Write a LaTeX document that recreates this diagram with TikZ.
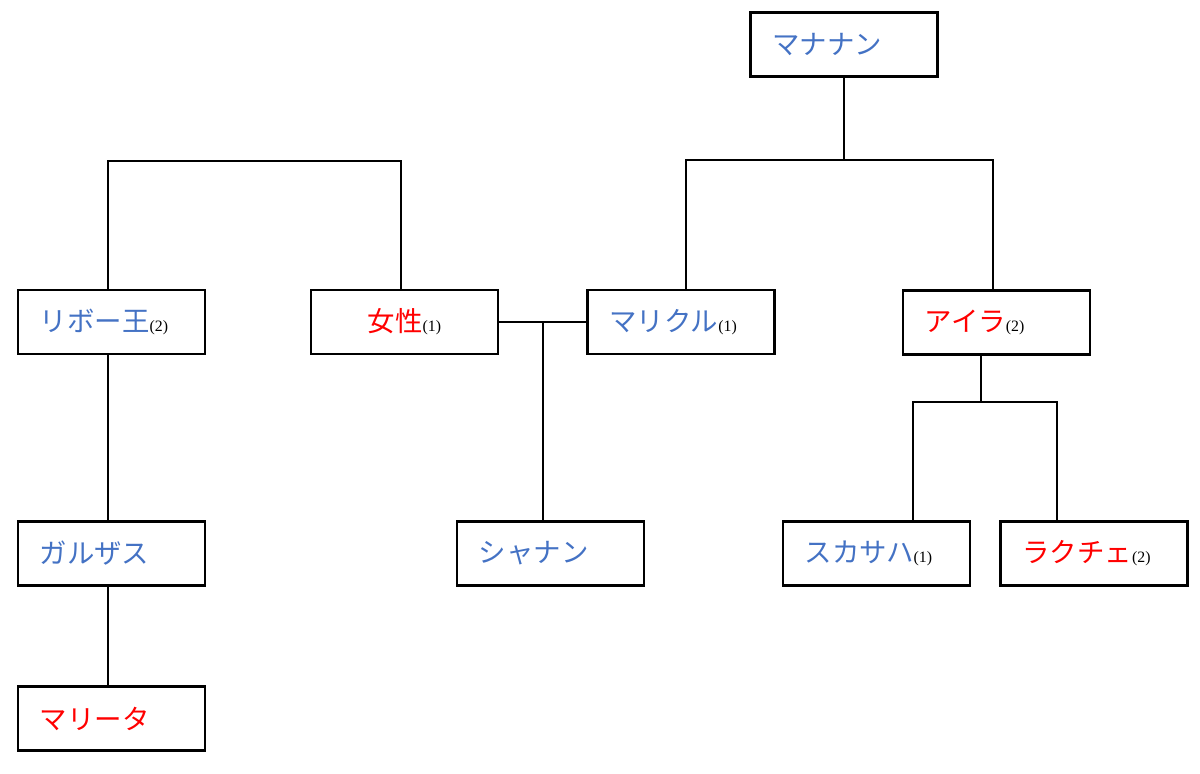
\documentclass[tikz,border=0pt]{standalone}
\usepackage{fontspec}
\setmainfont{Liberation Serif}
\newfontfamily\jpfont{Noto Sans CJK JP}
\usetikzlibrary{positioning}
\definecolor{nameblue}{RGB}{68,114,196}
\definecolor{namered}{RGB}{255,0,0}
\newcommand{\ord}[1]{{\color{black}\rmfamily\fontsize{4.5}{5}\selectfont(#1)}}

\begin{document}
\begin{tikzpicture}[x=0.01cm,y=-0.01cm]
	\useasboundingbox (0,0) rectangle (1200,774);
	\begin{scope}[every node/.style={rectangle,draw,line width=0.8pt,minimum height=0.64cm,minimum width=1.87cm,font=\jpfont\fontsize{7.8}{9}\selectfont,inner xsep=0.22cm,text width=1.43cm,align=left}]
		\node[text=nameblue] (manannan) at (844,44.5) {マナナン};
		\node[text=nameblue] (libo) at (111.5,322) {リボー王\ord{2}};
		\node[text=namered,align=center] (josei) at (404.5,322) {女性\ord{1}};
		\node[text=nameblue] (malikul) at (681,322) {マリクル\ord{1}};
		\node[text=namered] (aira) at (996.5,322.5) {アイラ\ord{2}};
		\node[text=nameblue] (galzas) at (111.5,553.5) {ガルザス};
		\node[text=nameblue] (shanan) at (550.5,553.5) {シャナン};
		\node[text=nameblue] (sukasaha) at (876.5,553.5) {スカサハ\ord{1}};
		\node[text=namered] (rakche) at (1094,553.5) {ラクチェ\ord{2}};
		\node[text=namered] (marita) at (111.5,718.5) {マリータ};
	\end{scope}

	\coordinate (topbar) at (844,160);
	\coordinate (leftbar) at (254,161);
	\coordinate (wed) at (543,322);
	\coordinate (airabar) at (981,402);

	\begin{scope}[line width=0.5pt]
	\draw (manannan.south) -- (topbar);
	\draw (malikul.north-|686,0) |- (topbar) -| (aira.north-|993,0);
	\draw (libo.north-|108,0) |- (leftbar) -| (josei.north-|401,0);
	\draw (josei.east) -- (malikul.west);
	\draw (wed) -- (shanan.north-|wed);
	\draw (libo.south-|108,0) -- (galzas.north-|108,0);
	\draw (galzas.south-|108,0) -- (marita.north-|108,0);
	\draw (aira.south-|airabar) -- (airabar);
	\draw (sukasaha.north-|913,0) |- (airabar) -| (rakche.north-|1057,0);
	\end{scope}
\end{tikzpicture}
\end{document}
